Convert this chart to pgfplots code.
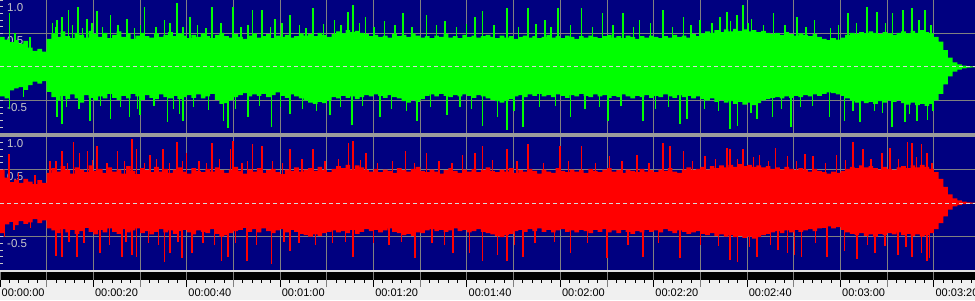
\documentclass[border=0pt]{standalone}
\usepackage{fontspec}
\setmainfont{Liberation Sans}
\usepackage{pgfplots}
\usepackage{pgfplotstable}
\pgfplotsset{compat=1.18}
\definecolor{navy}{RGB}{0,0,128}
\definecolor{wgreen}{RGB}{0,255,0}
\definecolor{wred}{RGB}{255,0,0}
\definecolor{gridgray}{RGB}{128,128,128}
\definecolor{sepgray}{RGB}{155,155,155}
\definecolor{lbl}{RGB}{200,200,200}
\definecolor{dashcol}{RGB}{215,215,215}
\definecolor{stripbg}{RGB}{240,240,240}
\definecolor{lightline}{RGB}{225,225,225}

% envelope: t, green top, green bottom, red top, red bottom
\pgfplotstableread[row sep=\\]{
t gt gb rt rb\\
0 0.45 -0.44 0.50 -0.45\\ 1 0.41 -0.47 0.38 -0.32\\ 2 0.37 -0.35 0.31 -0.28\\ 3 0.40 -0.32 0.35 -0.33\\
4 0.35 -0.30 0.30 -0.27\\ 5 0.39 -0.34 0.36 -0.31\\ 6 0.29 -0.27 0.32 -0.29\\ 7 0.24 -0.22 0.28 -0.24\\
8 0.27 -0.25 0.34 -0.30\\ 9 0.23 -0.21 0.30 -0.26\\ 10 0.42 -0.37 0.45 -0.38\\ 11 0.50 -0.45 0.52 -0.41\\
12 0.45 -0.50 0.47 -0.45\\ 13 0.53 -0.43 0.55 -0.39\\ 14 0.46 -0.48 0.49 -0.44\\ 15 0.43 -0.41 0.44 -0.40\\
16 0.51 -0.47 0.53 -0.46\\ 17 0.48 -0.53 0.50 -0.42\\ 18 0.44 -0.42 0.46 -0.37\\ 19 0.54 -0.46 0.56 -0.43\\
20 0.49 -0.50 0.48 -0.47\\ 21 0.45 -0.44 0.51 -0.40\\ 22 0.51 -0.47 0.45 -0.44\\ 23 0.43 -0.40 0.53 -0.38\\
24 0.48 -0.46 0.47 -0.43\\ 25 0.53 -0.49 0.50 -0.46\\ 26 0.45 -0.43 0.44 -0.39\\ 27 0.50 -0.47 0.55 -0.44\\
28 0.42 -0.40 0.48 -0.41\\ 29 0.47 -0.44 0.43 -0.38\\ 30 0.51 -0.49 0.52 -0.45\\ 31 0.46 -0.42 0.49 -0.42\\
32 0.44 -0.46 0.46 -0.47\\ 33 0.50 -0.48 0.54 -0.43\\ 34 0.45 -0.41 0.47 -0.39\\ 35 0.48 -0.45 0.51 -0.44\\
36 0.52 -0.47 0.45 -0.41\\ 37 0.46 -0.43 0.50 -0.46\\ 38 0.50 -0.48 0.53 -0.42\\ 39 0.47 -0.45 0.47 -0.40\\
40 0.43 -0.42 0.44 -0.44\\ 41 0.48 -0.46 0.52 -0.47\\ 42 0.45 -0.41 0.48 -0.41\\ 43 0.50 -0.47 0.46 -0.43\\
44 0.46 -0.44 0.51 -0.45\\ 45 0.43 -0.40 0.47 -0.39\\ 46 0.48 -0.49 0.53 -0.46\\ 47 0.51 -0.55 0.49 -0.50\\
48 0.46 -0.54 0.45 -0.48\\ 49 0.44 -0.50 0.50 -0.45\\ 50 0.49 -0.45 0.54 -0.42\\ 51 0.45 -0.42 0.48 -0.40\\
52 0.42 -0.39 0.44 -0.37\\ 53 0.47 -0.44 0.50 -0.43\\ 54 0.50 -0.41 0.47 -0.39\\ 55 0.44 -0.43 0.52 -0.44\\
56 0.46 -0.40 0.45 -0.38\\ 57 0.49 -0.45 0.49 -0.42\\ 58 0.43 -0.42 0.51 -0.45\\ 59 0.47 -0.38 0.46 -0.41\\
60 0.45 -0.43 0.43 -0.39\\ 61 0.48 -0.46 0.50 -0.44\\ 62 0.44 -0.41 0.48 -0.40\\ 63 0.46 -0.44 0.53 -0.43\\
64 0.50 -0.47 0.47 -0.46\\ 65 0.47 -0.50 0.50 -0.48\\ 66 0.49 -0.53 0.52 -0.50\\ 67 0.46 -0.55 0.48 -0.47\\
68 0.51 -0.52 0.54 -0.49\\ 69 0.48 -0.54 0.49 -0.45\\ 70 0.45 -0.49 0.46 -0.43\\ 71 0.49 -0.45 0.51 -0.41\\
72 0.53 -0.47 0.55 -0.44\\ 73 0.50 -0.43 0.52 -0.42\\ 74 0.55 -0.46 0.57 -0.45\\ 75 0.52 -0.44 0.50 -0.40\\
76 0.54 -0.48 0.56 -0.46\\ 77 0.51 -0.45 0.53 -0.43\\ 78 0.49 -0.42 0.49 -0.39\\ 79 0.46 -0.44 0.47 -0.42\\
80 0.48 -0.41 0.51 -0.40\\ 81 0.45 -0.43 0.46 -0.44\\ 82 0.47 -0.46 0.50 -0.41\\ 83 0.44 -0.42 0.48 -0.38\\
84 0.49 -0.45 0.45 -0.43\\ 85 0.46 -0.47 0.52 -0.45\\ 86 0.48 -0.51 0.49 -0.48\\ 87 0.45 -0.53 0.47 -0.46\\
88 0.50 -0.49 0.51 -0.49\\ 89 0.47 -0.52 0.54 -0.44\\ 90 0.44 -0.48 0.48 -0.45\\ 91 0.46 -0.43 0.46 -0.41\\
92 0.43 -0.41 0.50 -0.39\\ 93 0.47 -0.44 0.47 -0.42\\ 94 0.45 -0.40 0.44 -0.40\\ 95 0.49 -0.43 0.49 -0.43\\
96 0.44 -0.45 0.52 -0.41\\ 97 0.46 -0.42 0.48 -0.38\\ 98 0.43 -0.44 0.45 -0.42\\ 99 0.48 -0.41 0.50 -0.40\\
100 0.45 -0.43 0.47 -0.44\\ 101 0.47 -0.46 0.51 -0.42\\ 102 0.44 -0.42 0.46 -0.39\\ 103 0.46 -0.44 0.49 -0.43\\
104 0.48 -0.47 0.53 -0.45\\ 105 0.45 -0.49 0.48 -0.47\\ 106 0.43 -0.51 0.46 -0.49\\ 107 0.47 -0.53 0.50 -0.51\\
108 0.44 -0.50 0.47 -0.48\\ 109 0.46 -0.48 0.52 -0.46\\ 110 0.42 -0.44 0.45 -0.42\\ 111 0.45 -0.42 0.49 -0.40\\
112 0.47 -0.45 0.47 -0.43\\ 113 0.44 -0.41 0.51 -0.39\\ 114 0.46 -0.43 0.48 -0.42\\ 115 0.43 -0.40 0.44 -0.38\\
116 0.45 -0.44 0.50 -0.43\\ 117 0.48 -0.42 0.47 -0.40\\ 118 0.44 -0.45 0.45 -0.44\\ 119 0.46 -0.41 0.52 -0.41\\
120 0.43 -0.43 0.48 -0.39\\ 121 0.47 -0.46 0.46 -0.43\\ 122 0.45 -0.42 0.50 -0.41\\ 123 0.42 -0.44 0.47 -0.44\\
124 0.46 -0.40 0.49 -0.40\\ 125 0.44 -0.43 0.45 -0.42\\ 126 0.47 -0.45 0.51 -0.45\\ 127 0.45 -0.41 0.48 -0.40\\
128 0.43 -0.44 0.46 -0.43\\ 129 0.46 -0.42 0.50 -0.39\\ 130 0.48 -0.46 0.52 -0.44\\ 131 0.44 -0.43 0.47 -0.41\\
132 0.46 -0.45 0.49 -0.45\\ 133 0.43 -0.41 0.45 -0.40\\ 134 0.47 -0.44 0.50 -0.43\\ 135 0.45 -0.47 0.48 -0.46\\
136 0.42 -0.43 0.46 -0.42\\ 137 0.46 -0.45 0.51 -0.44\\ 138 0.44 -0.42 0.47 -0.40\\ 139 0.47 -0.46 0.49 -0.43\\
140 0.45 -0.43 0.46 -0.41\\ 141 0.43 -0.45 0.50 -0.44\\ 142 0.46 -0.41 0.48 -0.39\\ 143 0.44 -0.44 0.52 -0.42\\
144 0.48 -0.46 0.47 -0.45\\ 145 0.45 -0.42 0.45 -0.41\\ 146 0.47 -0.45 0.50 -0.43\\ 147 0.44 -0.43 0.53 -0.46\\
148 0.49 -0.47 0.49 -0.44\\ 149 0.46 -0.44 0.51 -0.42\\ 150 0.50 -0.48 0.54 -0.46\\ 151 0.53 -0.50 0.50 -0.48\\
152 0.51 -0.47 0.55 -0.45\\ 153 0.55 -0.52 0.52 -0.49\\ 154 0.52 -0.49 0.56 -0.47\\ 155 0.56 -0.53 0.53 -0.50\\
156 0.53 -0.51 0.57 -0.48\\ 157 0.57 -0.55 0.54 -0.51\\ 158 0.54 -0.52 0.58 -0.49\\ 159 0.56 -0.56 0.55 -0.52\\
160 0.53 -0.53 0.57 -0.50\\ 161 0.55 -0.57 0.54 -0.53\\ 162 0.52 -0.54 0.56 -0.51\\ 163 0.54 -0.50 0.53 -0.48\\
164 0.51 -0.48 0.55 -0.46\\ 165 0.49 -0.46 0.51 -0.44\\ 166 0.51 -0.45 0.53 -0.42\\ 167 0.48 -0.47 0.50 -0.45\\
168 0.52 -0.44 0.54 -0.41\\ 169 0.49 -0.46 0.51 -0.44\\ 170 0.47 -0.43 0.49 -0.40\\ 171 0.50 -0.45 0.52 -0.43\\
172 0.48 -0.42 0.50 -0.41\\ 173 0.46 -0.44 0.47 -0.39\\ 174 0.49 -0.41 0.51 -0.42\\ 175 0.45 -0.43 0.48 -0.38\\
176 0.42 -0.40 0.46 -0.37\\ 177 0.40 -0.38 0.44 -0.35\\ 178 0.43 -0.39 0.47 -0.38\\ 179 0.41 -0.41 0.45 -0.36\\
180 0.44 -0.43 0.48 -0.40\\ 181 0.48 -0.47 0.51 -0.44\\ 182 0.51 -0.50 0.54 -0.46\\ 183 0.49 -0.53 0.52 -0.48\\
184 0.52 -0.51 0.56 -0.45\\ 185 0.50 -0.54 0.53 -0.49\\ 186 0.53 -0.52 0.55 -0.47\\ 187 0.51 -0.55 0.52 -0.50\\
188 0.49 -0.51 0.50 -0.46\\ 189 0.52 -0.53 0.54 -0.48\\ 190 0.50 -0.50 0.51 -0.45\\ 191 0.48 -0.52 0.49 -0.47\\
192 0.51 -0.49 0.53 -0.44\\ 193 0.53 -0.54 0.55 -0.48\\ 194 0.50 -0.56 0.52 -0.46\\ 195 0.54 -0.53 0.56 -0.49\\
196 0.51 -0.57 0.53 -0.47\\ 197 0.55 -0.55 0.57 -0.50\\ 198 0.52 -0.58 0.54 -0.48\\ 199 0.50 -0.55 0.51 -0.45\\
200 0.45 -0.50 0.46 -0.39\\ 201 0.38 -0.40 0.36 -0.30\\ 202 0.25 -0.26 0.24 -0.20\\ 203 0.14 -0.14 0.13 -0.10\\
204 0.07 -0.07 0.07 -0.05\\ 205 0.04 -0.04 0.04 -0.03\\ 206 0.02 -0.02 0.02 -0.015\\ 207 0.01 -0.01 0.01 -0.01\\
208 0.005 -0.005 0.005 -0.005\\ 208.8 0.005 -0.005 0.005 -0.005\\
}\env

% green channel peaks
\pgfplotstableread[row sep=\\]{
t v\\
2.1 0.80\\ 6.4 0.45\\ 11.3 0.65\\ 12.2 0.70\\ 13.3 0.75\\ 14.6 0.85\\ 16.7 0.90\\ 18.6 0.72\\ 20.8 0.83\\
23.6 0.78\\ 27.2 0.72\\ 31.0 0.90\\ 35.3 0.70\\ 37.9 0.95\\ 40.7 0.75\\ 45.4 0.90\\ 49.9 0.90\\ 54.0 0.85\\
56.1 0.85\\ 58.9 0.72\\ 62.1 0.78\\ 67.0 0.88\\ 71.7 0.70\\ 74.5 0.82\\ 75.6 0.93\\ 78.2 0.75\\ 82.4 0.68\\
86.3 0.80\\ 91.4 0.78\\ 95.3 0.68\\ 101.7 0.75\\ 103.4 0.83\\ 108.6 0.88\\ 113.1 0.88\\ 116.7 0.70\\
119.5 0.88\\ 124.6 0.88\\ 129.1 0.80\\ 133.4 0.80\\ 137.0 0.70\\ 142.0 0.85\\ 146.3 0.75\\ 149.9 0.70\\
154.2 0.75\\ 155.7 0.82\\ 157.8 0.78\\ 159.1 0.93\\ 161.0 0.72\\ 165.7 0.80\\ 170.7 0.75\\ 174.5 0.70\\
181.6 0.80\\ 185.7 0.90\\ 187.8 0.82\\ 191.2 0.80\\ 193.4 0.85\\ 195.3 0.88\\ 198.1 0.85\\
3.2 0.50\\ 11.9 0.60\\ 15.5 0.62\\ 17.6 0.58\\ 19.7 0.65\\ 22.0 0.60\\ 25.3 0.63\\ 28.8 0.58\\ 30.1 0.62\\
33.4 0.60\\ 36.4 0.66\\ 39.2 0.60\\ 42.3 0.63\\ 44.1 0.58\\ 47.3 0.65\\ 51.6 0.60\\ 53.1 0.62\\ 58.0 0.60\\
60.4 0.66\\ 64.2 0.62\\ 65.5 0.58\\ 69.3 0.64\\ 73.0 0.62\\ 77.0 0.66\\ 80.1 0.60\\ 84.6 0.63\\ 88.2 0.60\\
93.5 0.62\\ 97.8 0.60\\ 99.9 0.64\\ 105.8 0.62\\ 111.0 0.60\\ 114.8 0.64\\ 118.0 0.60\\ 122.2 0.63\\
126.9 0.60\\ 131.3 0.62\\ 135.6 0.60\\ 139.3 0.65\\ 144.0 0.60\\ 148.0 0.62\\ 152.5 0.66\\ 156.5 0.68\\
160.2 0.65\\ 163.5 0.62\\ 168.1 0.63\\ 172.6 0.60\\ 177.9 0.58\\ 179.5 0.62\\ 183.4 0.65\\ 189.6 0.66\\
196.8 0.70\\ 199.4 0.62\\
2.1 -0.62\\ 12.2 -0.75\\ 13.3 -0.85\\ 19.3 -0.80\\ 23.6 -0.78\\ 27.8 -0.75\\ 30.0 -0.72\\ 35.8 -0.82\\
38.5 -0.70\\ 39.2 -0.80\\ 47.8 -0.80\\ 48.8 -0.91\\ 53.1 -0.75\\ 58.2 -0.89\\ 62.1 -0.70\\ 70.7 -0.72\\
75.4 -0.87\\ 81.4 -0.75\\ 89.3 -0.80\\ 95.7 -0.72\\ 103.4 -0.88\\ 106.6 -0.75\\ 108.6 -0.94\\ 112.0 -0.90\\
122.1 -0.75\\ 130.2 -0.80\\ 137.7 -0.80\\ 145.6 -0.85\\ 147.1 -0.78\\ 156.3 -0.92\\ 158.0 -0.88\\
162.1 -0.78\\ 165.5 -0.75\\ 169.4 -0.89\\ 177.7 -0.75\\ 180.9 -0.80\\ 184.2 -0.82\\ 191.0 -0.89\\
193.8 -0.82\\ 196.4 -0.80\\ 198.7 -0.79\\
5.0 -0.45\\ 14.2 -0.60\\ 16.9 -0.62\\ 21.5 -0.58\\ 25.8 -0.60\\ 29.4 -0.63\\ 33.0 -0.58\\ 37.2 -0.62\\
41.5 -0.60\\ 44.6 -0.64\\ 50.4 -0.62\\ 55.6 -0.58\\ 60.0 -0.60\\ 64.8 -0.63\\ 67.8 -0.66\\ 72.9 -0.60\\
77.6 -0.58\\ 83.8 -0.62\\ 87.0 -0.66\\ 92.2 -0.60\\ 98.5 -0.60\\ 101.0 -0.63\\ 110.1 -0.66\\ 115.6 -0.60\\
119.0 -0.58\\ 125.3 -0.62\\ 128.4 -0.60\\ 133.0 -0.58\\ 140.4 -0.62\\ 143.2 -0.60\\ 150.9 -0.62\\
153.9 -0.66\\ 160.8 -0.68\\ 167.4 -0.62\\ 171.5 -0.60\\ 174.0 -0.58\\ 182.7 -0.66\\ 187.3 -0.65\\
189.0 -0.68\\ 194.7 -0.70\\ 199.8 -0.66\\
}\gspk

% red channel peaks
\pgfplotstableread[row sep=\\]{
t v\\
1.9 0.73\\ 10.7 0.63\\ 13.3 0.78\\ 15.8 0.91\\ 17.1 0.75\\ 18.8 0.78\\ 20.8 0.85\\ 25.1 0.78\\ 28.3 0.95\\
29.3 0.80\\ 32.1 0.72\\ 34.9 0.80\\ 37.9 0.91\\ 40.0 0.75\\ 45.4 0.90\\ 49.3 0.80\\ 49.9 0.93\\ 54.0 0.88\\
56.1 0.85\\ 62.1 0.80\\ 67.0 0.80\\ 74.7 0.90\\ 75.6 0.93\\ 78.4 0.75\\ 86.9 0.78\\ 91.4 0.75\\ 99.1 0.72\\
101.7 0.75\\ 103.4 0.85\\ 108.6 0.80\\ 113.1 0.88\\ 119.9 0.85\\ 124.6 0.85\\ 130.6 0.70\\ 136.4 0.72\\
142.0 0.90\\ 143.5 0.85\\ 146.3 0.78\\ 151.0 0.70\\ 155.7 0.82\\ 156.3 0.80\\ 159.1 0.80\\ 162.7 0.72\\
166.0 0.82\\ 168.7 0.70\\ 172.4 0.73\\ 174.1 0.70\\ 179.2 0.72\\ 182.7 0.91\\ 184.8 0.80\\ 188.9 0.75\\
190.6 0.82\\ 194.4 0.91\\ 195.3 0.90\\ 197.4 0.88\\ 198.5 0.75\\ 199.6 0.60\\
4.0 0.45\\ 7.5 0.42\\ 12.0 0.62\\ 14.5 0.60\\ 19.8 0.64\\ 22.9 0.60\\ 26.7 0.63\\ 31.0 0.60\\ 33.5 0.65\\
36.3 0.60\\ 39.1 0.62\\ 42.6 0.63\\ 44.2 0.60\\ 47.0 0.66\\ 51.8 0.60\\ 53.0 0.63\\ 58.3 0.62\\ 60.5 0.60\\
64.7 0.65\\ 69.6 0.62\\ 72.5 0.66\\ 77.2 0.64\\ 80.8 0.60\\ 84.0 0.62\\ 88.8 0.60\\ 94.0 0.63\\ 96.8 0.60\\
105.5 0.64\\ 110.7 0.62\\ 116.4 0.60\\ 121.8 0.63\\ 127.5 0.60\\ 133.2 0.62\\ 139.0 0.60\\ 148.3 0.62\\
153.2 0.66\\ 158.0 0.65\\ 161.3 0.68\\ 164.6 0.62\\ 170.5 0.63\\ 176.8 0.60\\ 181.0 0.64\\ 186.5 0.65\\
192.4 0.66\\ 196.3 0.68\\
0.9 -0.50\\ 12.0 -0.79\\ 13.3 -0.80\\ 16.5 -0.80\\ 21.4 -0.75\\ 26.1 -0.80\\ 28.3 -0.77\\ 29.3 -0.80\\
35.3 -0.88\\ 36.4 -0.75\\ 39.0 -0.82\\ 41.1 -0.75\\ 47.5 -0.87\\ 48.8 -0.80\\ 52.9 -0.87\\ 58.2 -0.91\\
62.1 -0.72\\ 75.6 -0.80\\ 88.9 -0.82\\ 97.0 -0.75\\ 100.6 -0.75\\ 103.4 -0.86\\ 106.6 -0.78\\ 108.6 -0.87\\
112.0 -0.80\\ 122.1 -0.75\\ 130.0 -0.82\\ 137.7 -0.80\\ 145.6 -0.82\\ 156.3 -0.85\\ 158.0 -0.88\\
162.1 -0.80\\ 166.6 -0.70\\ 168.7 -0.75\\ 170.2 -0.78\\ 171.7 -0.80\\ 177.1 -0.80\\ 180.9 -0.72\\
183.5 -0.84\\ 187.4 -0.75\\ 192.3 -0.78\\ 195.3 -0.80\\ 197.4 -0.75\\ 198.5 -0.87\\ 199.1 -0.82\\
3.0 -0.40\\ 6.5 -0.38\\ 14.8 -0.58\\ 18.0 -0.60\\ 23.5 -0.62\\ 27.0 -0.58\\ 31.8 -0.60\\ 34.0 -0.62\\
38.1 -0.58\\ 43.5 -0.60\\ 45.9 -0.63\\ 50.5 -0.60\\ 55.0 -0.62\\ 60.8 -0.58\\ 64.0 -0.60\\ 67.5 -0.62\\
71.2 -0.60\\ 74.0 -0.58\\ 80.0 -0.60\\ 83.3 -0.62\\ 86.0 -0.58\\ 92.5 -0.60\\ 95.2 -0.62\\ 110.2 -0.62\\
114.6 -0.60\\ 118.8 -0.58\\ 125.8 -0.60\\ 134.5 -0.62\\ 141.0 -0.60\\ 150.0 -0.62\\ 153.8 -0.64\\
160.5 -0.66\\ 165.0 -0.62\\ 174.6 -0.60\\ 185.8 -0.62\\ 189.5 -0.64\\ 194.0 -0.66\\
}\rspk

\pgfplotsset{
  wave/.style={
    scale only axis, width=975pt, height=134pt,
    xmin=0, xmax=208.8, ymin=-1, ymax=1,
    axis background/.style={fill=navy},
    axis line style={draw=none},
    xtick={10,20,...,200}, xticklabel={}, xtick style={draw=none},
    ytick={-0.5,0,0.5,1}, yticklabels={-0.5,0.0,0.5,1.0},
    minor ytick={-0.9,-0.8,-0.7,-0.6,-0.4,-0.3,-0.2,-0.1,0.1,0.2,0.3,0.4,0.6,0.7,0.8,0.9},
    ytick pos=left, tick align=inside,
    major tick length=3pt, minor tick length=3pt,
    ytick style={draw=lbl, line width=0.8pt},
    grid=major,
    major grid style={draw=gridgray, line width=1pt},
    yticklabel style={anchor=north west, inner sep=0pt, xshift=7pt, yshift=-3pt,
      text=lbl, font=\fontsize{11.5}{13}\selectfont},
  }
}

\begin{document}
\begin{tikzpicture}[x=1pt,y=1pt]
\fill[stripbg] (0,0) rectangle (975,300);

% top channel (green)
\begin{axis}[wave, at={(0pt,166pt)}, anchor=south west]
\addplot[const plot, fill=wgreen, draw=none] table[x=t,y=gt]{\env} \closedcycle;
\addplot[const plot, fill=wgreen, draw=none] table[x=t,y=gb]{\env} \closedcycle;
\addplot[ycomb, wgreen, line width=1.3pt, no markers] table[x=t,y=v]{\gspk};
\addplot[color=dashcol, line width=1pt, dash pattern=on 4pt off 3pt] coordinates {(0,0) (208.8,0)};
\end{axis}

% bottom channel (red)
\begin{axis}[wave, at={(0pt,30pt)}, anchor=south west]
\addplot[const plot, fill=wred, draw=none] table[x=t,y=rt]{\env} \closedcycle;
\addplot[const plot, fill=wred, draw=none] table[x=t,y=rb]{\env} \closedcycle;
\addplot[ycomb, wred, line width=1.3pt, no markers] table[x=t,y=v]{\rspk};
\addplot[color=dashcol, line width=1pt, dash pattern=on 4pt off 3pt] coordinates {(0,0) (208.8,0)};
\end{axis}

% time ruler
\begin{axis}[scale only axis, width=975pt, height=8pt, at={(0pt,20pt)}, anchor=south west,
  xmin=0, xmax=208.8, ymin=0, ymax=1,
  axis background/.style={fill=black},
  axis line style={draw=none},
  ytick=\empty,
  xtick={0,20,...,200},
  xticklabels={00:00:00,00:00:20,00:00:40,00:01:00,00:01:20,00:01:40,00:02:00,00:02:20,00:02:40,00:03:00,00:03:20},
  extra x ticks={10,30,...,190}, extra x tick labels={},
  extra x tick style={grid=major, xtick style={draw=gridgray, line width=1pt}},
  minor xtick={2,4,...,208},
  xtick pos=bottom, tick align=outside,
  major tick length=7pt, minor tick length=2.5pt,
  xtick style={draw=black, line width=1pt},
  grid=major,
  major grid style={draw=gridgray, line width=1pt},
  xticklabel style={anchor=north west, inner sep=0pt, xshift=1.5pt, yshift=-1.5pt,
    text=black, font=\fontsize{11}{13}\selectfont},
]
\addplot[draw=none] coordinates {(0,0.5)};
\end{axis}

\fill[sepgray] (0,162.5) rectangle (975,166.5);
\fill[lightline] (0,28) rectangle (975,30);
\pgfresetboundingbox
\useasboundingbox (0,0) rectangle (975,300);
\end{tikzpicture}
\end{document}
